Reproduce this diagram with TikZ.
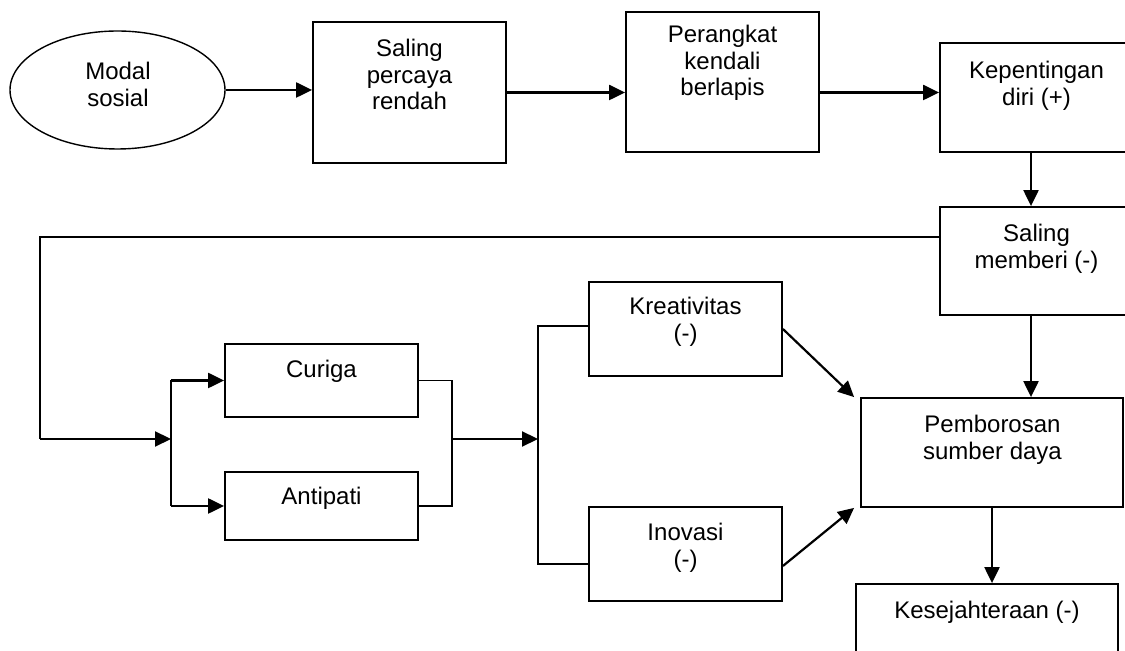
\documentclass[tikz,border=0pt]{standalone}
\usepackage{fontspec}
\setmainfont{Liberation Sans}
\usetikzlibrary{shapes.geometric,arrows.meta}

\begin{document}
\begin{tikzpicture}[x=0.5pt,y=-0.5pt,
  every node/.style={font=\fontsize{12}{13.2}\selectfont},
  kotak/.style={draw, line width=0.9pt, rectangle, inner sep=0pt, minimum width=96.5pt},
  teks/.style={anchor=north, align=center, inner sep=0pt},
  garis/.style={line width=0.9pt},
  panah/.style={line width=1.1pt, -{Triangle[length=8pt,width=7.5pt]}}]
\clip (0,0) rectangle (1125,651);
\node[draw, ellipse, line width=0.7pt, minimum width=107.5pt, minimum height=59pt, inner sep=0pt] (modal) at (117.5,90) {};
\node[kotak, minimum height=70.5pt] (percaya) at (409.5,92.5) {};
\node[kotak, minimum height=70pt] (perangkat) at (722.5,82) {};
\node[kotak, minimum height=54.5pt] (kepentingan) at (1036.5,97.5) {};
\node[kotak, minimum height=54pt] (memberi) at (1036.5,261) {};
\node[kotak, minimum height=36.5pt] (curiga) at (321.5,380.5) {};
\node[kotak, minimum height=34pt] (antipati) at (321.5,506) {};
\node[kotak, minimum height=47pt] (kreativitas) at (685.5,329) {};
\node[kotak, minimum height=47pt] (inovasi) at (685.5,554) {};
\node[kotak, minimum width=131pt, minimum height=54.5pt] (boros) at (992,452.5) {};
\node[kotak, minimum width=131pt, minimum height=58pt] (sejahtera) at (987,642) {};
\node[teks] (modalT) at (118,62) {Modal\\sosial};
\node[teks] (percayaT) at (409.5,39) {Saling\\percaya\\rendah};
\node[teks] (perangkatT) at (722.5,25) {Perangkat\\kendali\\berlapis};
\node[teks] (kepentinganT) at (1036.5,61) {Kepentingan\\diri (+)};
\node[teks] (memberiT) at (1036.5,224) {Saling\\memberi (-)};
\node[teks] (curigaT) at (321.5,360) {Curiga};
\node[teks] (antipatiT) at (321.5,487) {Antipati};
\node[teks] (kreativitasT) at (685.5,297) {Kreativitas\\(-)};
\node[teks] (inovasiT) at (685.5,523) {Inovasi\\(-)};
\node[teks] (borosT) at (992.5,415) {Pemborosan\\sumber daya};
\node[teks] (sejahteraT) at (987,601) {Kesejahteraan (-)};
\coordinate (kiri) at (40,439);
\coordinate (cabA) at (171,439);
\coordinate (gabung) at (452,439);
\coordinate (cabB) at (538,439);
\coordinate (kreIn) at ([yshift=1.5pt]kreativitas.west);
\coordinate (inoIn) at ([yshift=-5pt]inovasi.west);
\draw[panah] (modal.east) -- (modal.east -| percaya.west);
\draw[panah] (percaya.east) -- (percaya.east -| perangkat.west);
\draw[panah] (percaya.east -| perangkat.east) -- (percaya.east -| kepentingan.west);
\draw[panah] ([xshift=-2.75pt]kepentingan.south) -- ([xshift=-2.75pt]memberi.north);
\draw[panah] ([xshift=-2.75pt]memberi.south) -- ([xshift=-2.75pt]memberi.south |- boros.north);
\draw[panah] (boros.south) -- (boros.south |- sejahtera.north);
\draw[garis] ([yshift=12pt]memberi.west) -| (kiri);
\draw[panah] (kiri) -- (cabA);
\draw[garis] (cabA |- curiga.west) -- (cabA |- antipati.west);
\draw[panah] (cabA |- curiga.west) -- (curiga.west);
\draw[panah] (cabA |- antipati.west) -- (antipati.west);
\draw[garis] (curiga.east) -| (gabung) |- (antipati.east);
\draw[panah] (gabung) -- (cabB);
\draw[garis] (kreIn) -- (kreIn -| cabB) -- (inoIn -| cabB) -- (inoIn);
\draw[panah] (kreativitas.east) -- ([xshift=-3pt]boros.north west);
\draw[panah] ([yshift=-6pt]inovasi.east) -- ([xshift=-3pt]boros.south west);
\end{tikzpicture}
\end{document}
